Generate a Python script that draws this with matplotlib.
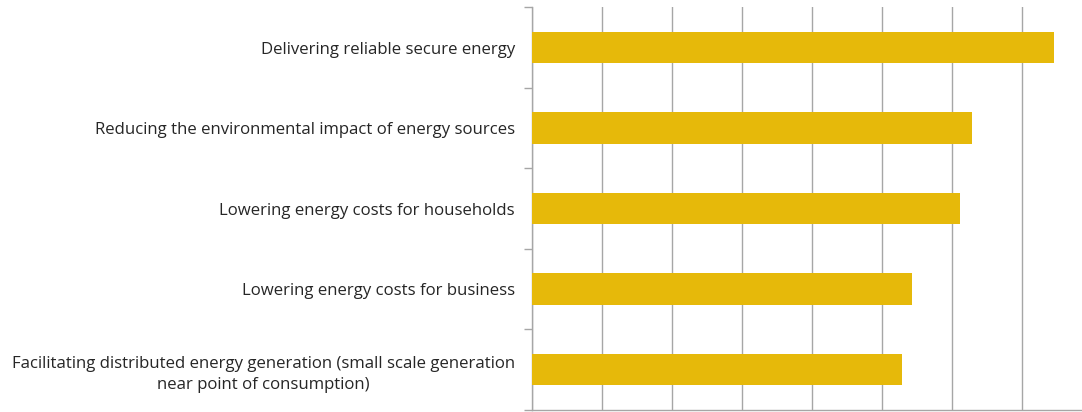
import numpy as np
import matplotlib.pyplot as plt

# data (one grid step = 10)
categories = [
    'Delivering reliable secure energy',
    'Reducing the environmental impact of energy sources',
    'Lowering energy costs for households',
    'Lowering energy costs for business',
    'Facilitating distributed energy generation (small scale generation\nnear point of consumption)',
]
values = [74.6, 62.9, 61.2, 54.3, 52.9]

bar_color = '#E6B90A'
grid_color = '#A6A6A6'

fig = plt.figure(figsize=(10.82, 4.12), dpi=100)
ax = fig.add_axes([0.4914, 0.00485, 0.5086, 0.9774])

y = np.arange(len(categories))
ax.barh(y, values, height=0.39, color=bar_color, zorder=3)

ax.set_ylim(len(categories) - 0.5, -0.5)
ax.set_xlim(0, 78.6)
ax.set_xticks(np.arange(0, 80, 10))
ax.xaxis.grid(True, color=grid_color, linewidth=1.0, zorder=0)
ax.tick_params(axis='x', length=0, labelbottom=False)

ax.set_yticks(y)
ax.set_yticklabels(categories, fontsize=12.1, color='#262626', family=['Open Sans', 'DejaVu Sans'])
ax.set_yticks(np.arange(-0.5, len(categories)), minor=True)
ax.tick_params(axis='y', which='major', length=0, pad=12)
ax.tick_params(axis='y', which='minor', length=6, color=grid_color, width=1.0)
for lbl in ax.get_yticklabels():
    lbl.set_multialignment('center')
    lbl.set_linespacing(1.45)

for s in ['top', 'right']:
    ax.spines[s].set_visible(False)
for s in ['left', 'bottom']:
    ax.spines[s].set_color(grid_color)
    ax.spines[s].set_linewidth(1.0)

plt.savefig('out.png', dpi=100)
